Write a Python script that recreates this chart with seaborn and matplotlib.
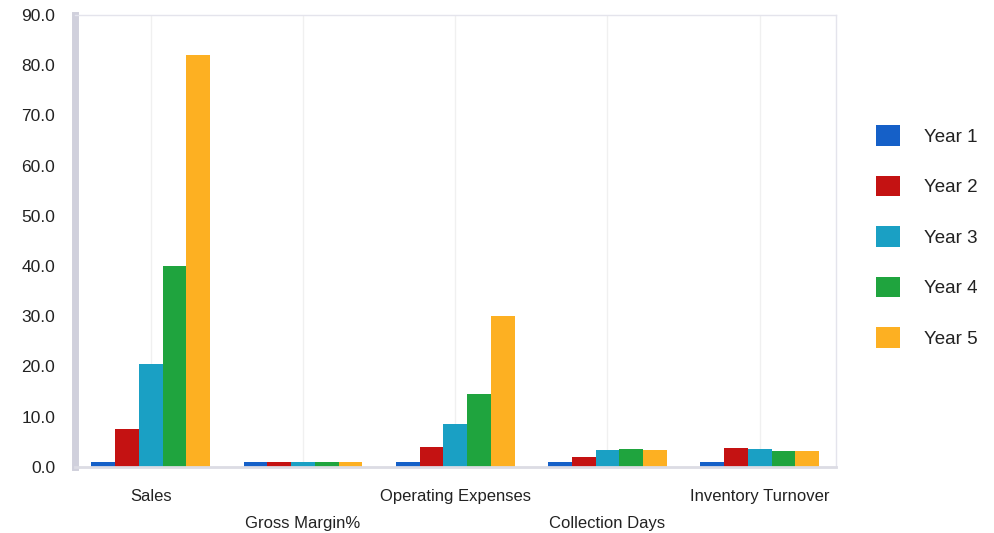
import pandas as pd
import matplotlib.pyplot as plt
import seaborn as sns
from matplotlib.ticker import FormatStrFormatter

## Values
categories = ['Sales', 'Gross Margin%', 'Operating Expenses', 'Collection Days', 'Inventory Turnover']
years = ['Year 1', 'Year 2', 'Year 3', 'Year 4', 'Year 5']
year1 = [1.0, 1.0, 1.0, 1.0, 1.0]
year2 = [7.5, 1.0, 4.0, 2.0, 3.8]
year3 = [20.5, 1.0, 8.5, 3.4, 3.5]
year4 = [40.0, 1.0, 14.5, 3.5, 3.2]
year5 = [82.0, 1.0, 30.0, 3.4, 3.1]
colors = ['#1560c8', '#c41212', '#1aa0c4', '#1fa43e', '#fdb022']

## Long format for seaborn
rows = []
for yr, vals in zip(years, [year1, year2, year3, year4, year5]):
    for cat, v in zip(categories, vals):
        rows.append({'Category': cat, 'Year': yr, 'Value': v})
df = pd.DataFrame(rows)

sns.set_style('white')
plt.rcParams['font.family'] = ['Liberation Sans', 'DejaVu Sans']

fig = plt.figure(figsize=(9.95, 5.33), dpi=100)
ax = fig.add_axes([0.075, 0.124, 0.765, 0.848])

sns.barplot(data=df, x='Category', y='Value', hue='Year', palette=colors,
            saturation=1, width=0.78, gap=0, ax=ax, edgecolor='none')

ax.set_ylim(0, 90)
ax.set_yticks(range(0, 91, 10))
ax.yaxis.set_major_formatter(FormatStrFormatter('%.1f'))
ax.tick_params(axis='y', labelsize=12.5, length=0, pad=14, colors='#222222')
ax.set_xlabel('')
ax.set_ylabel('')

## staggered category labels
ax.set_xticks(range(len(categories)))
ax.set_xticklabels(categories)
for i, lab in enumerate(ax.get_xticklabels()):
    lab.set_fontsize(12)
    lab.set_color('#222222')
    if i % 2 == 1:
        lab.set_y(-0.06)
ax.tick_params(axis='x', length=0, pad=16)

## faint grid and wall-like frame
ax.grid(axis='x', color='#f0f0f0', linewidth=1)
ax.set_axisbelow(True)
for side in ['top', 'right']:
    ax.spines[side].set_color('#e4e4ec')
    ax.spines[side].set_linewidth(1)
ax.spines['left'].set_color('#d0d0dc')
ax.spines['left'].set_linewidth(5)
ax.spines['bottom'].set_color('#dcdce4')
ax.spines['bottom'].set_linewidth(2)

leg = ax.legend(loc='center left', bbox_to_anchor=(1.03, 0.51), frameon=False,
                fontsize=13.5, handlelength=1.3, handleheight=1.3,
                labelspacing=1.6, handletextpad=1.3)
for t in leg.get_texts():
    t.set_color('#222222')

fig.savefig('out.png', dpi=100)
